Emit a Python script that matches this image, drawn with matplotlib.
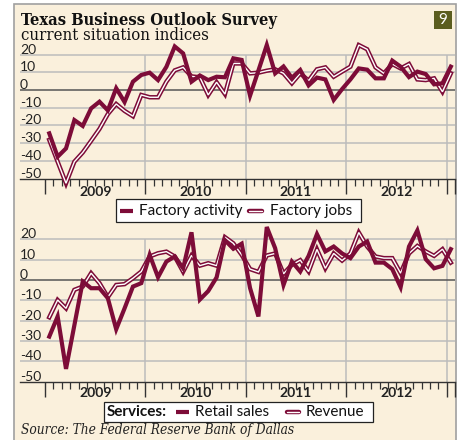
import matplotlib.pyplot as plt
import numpy as np
from matplotlib.lines import Line2D
from matplotlib.patches import Rectangle

# Texas Business Outlook Survey, monthly Jan 2009 - Jan 2013

factory_activity = [-24.5, -37.7, -33, -17, -20.3, -10.4, -6.6, -11.5, 1, -6.8,
                    4.7, 8.5, 9.8, 5.6, 13.1, 24.6, 20.7, 4.7, 8.2, 5.6,
                    7.5, 7.2, 17.9, 17, -3.2, 11, 25.4, 9.4, 13.3, 6.9,
                    11.3, 2.6, 7, 6, -5.6, 0.5, 6, 12.2, 11.5, 6.6,
                    6.6, 16.6, 13.2, 7.3, 10.4, 9, 3.2, 3.8, 13.2]
factory_jobs = [-28.2, -40.5, -52.7, -40.5, -35.3, -28.7, -22, -13.6, -7.9, -11.8,
                -14.8, -2.8, -4.1, -4.1, 4.7, 11.1, 12.8, 7.7, 7.2, -2.8,
                4.4, -2.3, 15, 15, 9.4, 9.8, 10.9, 11.7, 9.4, 3.8,
                9.4, 5.3, 11.7, 12.8, 7.5, 10.4, 13.2, 25.4, 23, 12.8,
                9.4, 14.7, 12.2, 14.7, 6, 5.6, 6.6, -1, 9.4]
retail_sales = [-27.9, -18, -43.8, -22.3, -0.8, -4.1, -4.1, -9, -24.3, -14,
                -3.3, -1.6, 12.3, 1.3, 9, 11.5, 5.7, 23.4, -9.7, -5.5,
                1.2, 19.5, 15.3, 17.8, -4, -18, 26, 15.6, -2.5, 9,
                4.1, 11.8, 22.5, 14, 16.4, 13, 10.7, 16.4, 18.9, 8.5,
                8.5, 5.3, -3.6, 16.4, 24.3, 10.2, 5.7, 6.9, 15.1]
revenue = [-18.4, -9.9, -14, -4.9, -3.3, 3.3, -1.6, -8.5, -2.5, -2.1,
           0.8, 4.1, 11.5, 13.1, 13.9, 11.5, 4, 12, 7, 8.2,
           7, 21, 18, 12.3, 5.3, 3.9, 12, 13, 3, 7.4,
           9.7, 4.1, 15, 5.7, 13, 9.5, 13, 23.3, 16.4, 11.5,
           10.7, 10.7, 3.3, 13, 16.7, 14, 11.8, 15.1, 8.5]

years = ['2009', '2010', '2011', '2012']
ytick_values = [-50, -40, -30, -20, -10, 0, 10, 20]

months = np.arange(len(factory_activity)) + 0.5

maroon = '#7d0c38'
cream = '#faf0dc'
grid_col = '#bcbcbc'
sans = 'Lato'
serif = 'DejaVu Serif'

W, H = 463, 440
fig = plt.figure(figsize=(W / 100, H / 100), dpi=100)
fig.patch.set_facecolor('white')


def fx(x):
    return x / W


def fy(y):
    return 1 - y / H


# panel background with grey frame
fig.add_artist(Rectangle((fx(14), fy(445)), (456 - 14) / W, (445 - 4) / H,
                         transform=fig.transFigure, facecolor=cream,
                         edgecolor='#a0a0a0', lw=1.2, zorder=0))


def solid(ax, y):
    ax.plot(months, y, color=maroon, lw=3.0, solid_joinstyle='miter',
            clip_on=False, zorder=4)


def double(ax, y):
    ax.plot(months, y, color=maroon, lw=3.2, solid_joinstyle='miter',
            clip_on=False, zorder=3)
    ax.plot(months, y, color='white', lw=1.0, solid_joinstyle='miter',
            clip_on=False, zorder=3.5)


def setup(ax, ymax, year_off):
    ax.set_facecolor('none')
    ax.set_xlim(-3, 49)
    ax.set_ylim(-50, ymax)
    for s in ['top', 'right', 'left']:
        ax.spines[s].set_visible(False)
    ax.spines['bottom'].set_color('#333333')
    ax.spines['bottom'].set_linewidth(1.0)
    ax.set_yticks([])
    ax.set_xticks([0, 12, 24, 36, 48, 49])
    ax.set_xticks(np.arange(0, 50), minor=True)
    ax.set_xticklabels([])
    ax.tick_params(axis='x', which='major', length=11, width=1.0,
                   color='#333333', direction='out')
    ax.tick_params(axis='x', which='minor', length=5, width=0.9,
                   color='#333333', direction='out')
    for v in ytick_values:
        if v == 0:
            ax.axhline(v, color='#555555', lw=1.1, zorder=2)
        elif v > -50:
            ax.axhline(v, color=grid_col, lw=1.1, zorder=1)
        ax.annotate(str(v), xy=(0, v), xycoords=('axes fraction', 'data'),
                    xytext=(0, 1.0), textcoords='offset pixels',
                    ha='left', va='baseline', fontsize=10, family=sans,
                    color='#222222', zorder=2)
    ax.vlines([12, 24, 36, 48], -50, 20, color=grid_col, lw=1.1, zorder=1)
    for k, yr in enumerate(years):
        ax.annotate(yr, xy=(6 + 12 * k, 0), xycoords=('data', 'axes fraction'),
                    xytext=(0, year_off), textcoords='offset pixels',
                    ha='center', va='center', fontsize=10, family=sans,
                    fontweight='bold', color='#222222')


ax1 = fig.add_axes([fx(20), fy(178.5), 435 / W, (178.5 - 44) / H])
setup(ax1, 26, -13.5)
double(ax1, factory_jobs)
solid(ax1, factory_activity)

ax2 = fig.add_axes([fx(20), fy(381.5), 435 / W, (381.5 - 225) / H])
setup(ax2, 27, -11.5)
double(ax2, revenue)
solid(ax2, retail_sales)

# titles
fig.text(fx(21), fy(25), 'Texas Business Outlook Survey', family=serif,
         fontstretch='condensed', fontweight='bold', fontsize=11.8,
         va='baseline', ha='left', color='#111111')
fig.text(fx(21), fy(40.5), 'current situation indices', family=serif,
         fontstretch='condensed', fontsize=12, va='baseline', ha='left',
         color='#111111')
fig.text(fx(21), fy(434), 'Source: The Federal Reserve Bank of Dallas',
         family=serif, fontstretch='condensed', style='italic', fontsize=9.8,
         va='baseline', ha='left', color='#222222')

# chart number box
fig.add_artist(Rectangle((fx(434), fy(28.7)), 18 / W, 17.4 / H,
                         transform=fig.transFigure, facecolor='#5b5d1f',
                         edgecolor='none'))
fig.text(fx(443), fy(20), '9', color='white', ha='center', va='center',
         fontsize=11, family=sans)


def legend_box(x0, x1, y0, y1):
    fig.add_artist(Rectangle((fx(x0), fy(y1)), (x1 - x0) / W, (y1 - y0) / H,
                             transform=fig.transFigure, facecolor='white',
                             edgecolor='#222222', lw=0.9, zorder=5))


def legend_solid(x0, x1, y):
    fig.add_artist(Line2D([fx(x0), fx(x1)], [fy(y), fy(y)],
                          transform=fig.transFigure, color=maroon, lw=3.0,
                          solid_capstyle='butt', zorder=6))


def legend_double(x0, x1, y):
    fig.add_artist(Line2D([fx(x0), fx(x1)], [fy(y), fy(y)],
                          transform=fig.transFigure, color=maroon, lw=3.2,
                          solid_capstyle='round', zorder=6))
    fig.add_artist(Line2D([fx(x0), fx(x1)], [fy(y), fy(y)],
                          transform=fig.transFigure, color='white', lw=1.0,
                          solid_capstyle='round', zorder=7))


def legend_text(x, y, s, bold=False):
    fig.text(fx(x), fy(y), s, family=sans, fontsize=11,
             fontweight='bold' if bold else 'normal', ha='left',
             va='center', color='#111111', zorder=8)


legend_box(115.7, 361, 199, 222.3)
legend_solid(120, 133, 210.7)
legend_text(139, 210.7, 'Factory activity')
legend_double(249, 262, 210.7)
legend_text(270, 210.7, 'Factory jobs')

legend_box(104, 372.7, 401.7, 421.7)
legend_text(107, 411.7, 'Services:', bold=True)
legend_solid(176, 189, 411.7)
legend_text(195, 411.7, 'Retail sales')
legend_double(287, 299, 411.7)
legend_text(306, 411.7, 'Revenue')

fig.savefig('out.png', dpi=100, facecolor=fig.get_facecolor())
